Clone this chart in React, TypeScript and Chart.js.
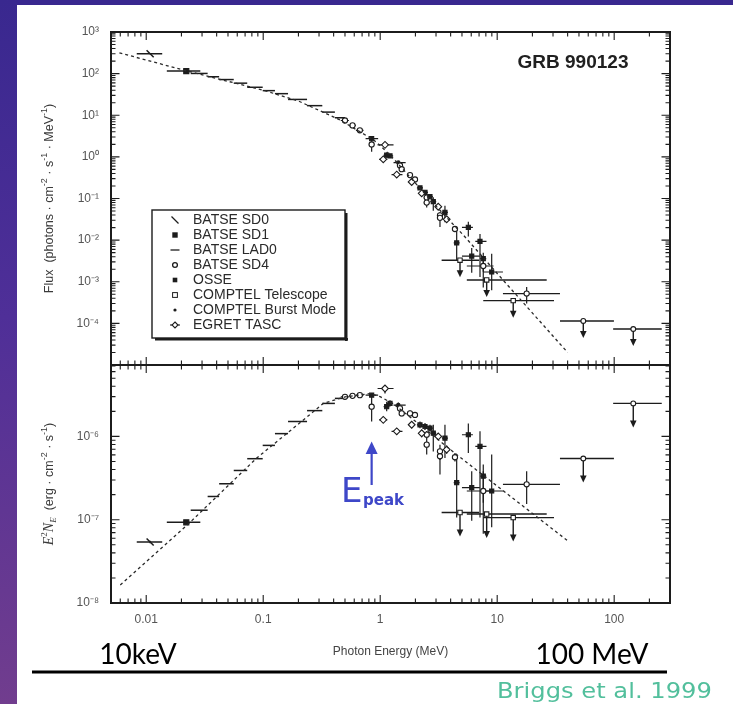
import { useEffect, useRef } from "react";
import { Chart, registerables } from "chart.js";

Chart.register(...registerables);

// ---------- page geometry ----------
const W = 733;
const H = 704;
const PLOT_LEFT = 111;
const PLOT_RIGHT = 670;
const FLUX_TOP = 32;
const PANEL_SPLIT = 365;
const NUF_BOTTOM = 603;
const X_AXIS_BOX = 56;

const INK = "#1c1c1c";
const SANS = '"Liberation Sans", Arial, Helvetica, sans-serif';
const SERIF = '"Liberation Serif", "Times New Roman", serif';
const BLUE = "#3e47c8";

// ---------- axes ----------
const energyMin = 0.005;
const energyMax = 300;
const energyTicks = [0.01, 0.1, 1, 10, 100];
const energyTickLabels = ["0.01", "0.1", "1", "10", "100"];

const fluxMin = 1e-5;
const fluxMax = 1e3;
const fluxTicks = [1e-4, 1e-3, 1e-2, 1e-1, 1, 1e1, 1e2, 1e3];

const nufMin = 1e-8;
const nufMax = 7.2e-6;
const nufTicks = [1e-8, 1e-7, 1e-6];

// ---------- measurements: [E, E_lo, E_hi, value, lo, hi] ----------
// photon flux in photons cm^-2 s^-1 MeV^-1, E^2 N_E in erg cm^-2 s^-1
const sd0Flux = [[0.0108, 0.0083, 0.0137, 300, 290, 310]];
const sd0Nuf = [[0.0108, 0.0083, 0.0137, 5.4e-8, 5.2e-8, 5.6e-8]];

const sd1Flux = [[0.022, 0.015, 0.029, 115, 112, 118]];
const sd1Nuf = [[0.022, 0.015, 0.029, 9.3e-8, 9.0e-8, 9.6e-8]];

const ladFlux = [
  [0.0284, 0.024, 0.0335, 101],
  [0.0375, 0.0335, 0.042, 84],
  [0.0485, 0.042, 0.056, 72],
  [0.064, 0.056, 0.073, 59],
  [0.085, 0.073, 0.099, 47],
  [0.112, 0.099, 0.126, 39],
  [0.143, 0.126, 0.163, 33],
  [0.197, 0.163, 0.237, 24],
  [0.275, 0.237, 0.32, 17],
  [0.362, 0.32, 0.41, 11.9],
  [0.453, 0.41, 0.5, 8.7],
];
const ladNuf = [
  [0.0284, 0.024, 0.0335, 1.3e-7],
  [0.0375, 0.0335, 0.042, 1.9e-7],
  [0.0485, 0.042, 0.056, 2.7e-7],
  [0.064, 0.056, 0.073, 3.9e-7],
  [0.085, 0.073, 0.099, 5.4e-7],
  [0.112, 0.099, 0.126, 7.8e-7],
  [0.143, 0.126, 0.163, 1.08e-6],
  [0.197, 0.163, 0.237, 1.51e-6],
  [0.275, 0.237, 0.32, 2.04e-6],
  [0.362, 0.32, 0.41, 2.49e-6],
  [0.453, 0.41, 0.5, 2.86e-6],
];

const sd4Flux = [
  [0.5, 0.46, 0.54, 7.47, 7.1, 7.9],
  [0.58, 0.54, 0.62, 5.7, 5.4, 6.0],
  [0.67, 0.62, 0.72, 4.35, 4.1, 4.6],
  [0.845, 0.8, 0.89, 1.99, 1.32, 2.74],
  [1.476, 1.4, 1.56, 0.622, 0.57, 0.68],
  [1.527, 1.45, 1.61, 0.506, 0.46, 0.55],
  [1.798, 1.7, 1.9, 0.365, 0.33, 0.4],
  [1.983, 1.88, 2.1, 0.287, 0.26, 0.32],
  [2.497, 2.36, 2.64, 0.105, 0.095, 0.116],
  [2.497, 2.36, 2.64, 0.0797, 0.0606, 0.1],
  [3.243, 3.07, 3.43, 0.0393, 0.0208, 0.0472],
  [3.243, 3.07, 3.43, 0.0343, 0.031, 0.038],
  [4.355, 4.12, 4.6, 0.0185, 0.0165, 0.0205],
  [7.603, 5.5, 9.3, 0.00239, 0.00073, 0.00414],
  [17.86, 11.2, 34.4, 5.21e-4, 3.01e-4, 7.5e-4],
];
const sd4Nuf = [
  [0.5, 0.46, 0.54, 2.99e-6, 2.9e-6, 3.08e-6],
  [0.58, 0.54, 0.62, 3.07e-6, 2.98e-6, 3.16e-6],
  [0.67, 0.62, 0.72, 3.13e-6, 3.04e-6, 3.22e-6],
  [0.845, 0.8, 0.89, 2.275e-6, 1.51e-6, 3.13e-6],
  [1.476, 1.4, 1.56, 2.17e-6, 2.0e-6, 2.35e-6],
  [1.527, 1.45, 1.61, 1.89e-6, 1.74e-6, 2.05e-6],
  [1.798, 1.7, 1.9, 1.89e-6, 1.74e-6, 2.05e-6],
  [1.983, 1.88, 2.1, 1.81e-6, 1.66e-6, 1.97e-6],
  [2.497, 2.36, 2.64, 1.05e-6, 0.95e-6, 1.16e-6],
  [2.497, 2.36, 2.64, 7.96e-7, 6.05e-7, 1.0e-6],
  [3.243, 3.07, 3.43, 6.62e-7, 3.5e-7, 7.96e-7],
  [3.243, 3.07, 3.43, 5.78e-7, 5.2e-7, 6.4e-7],
  [4.355, 4.12, 4.6, 5.62e-7, 5.0e-7, 6.3e-7],
  [7.603, 5.5, 9.3, 2.21e-7, 6.76e-8, 3.83e-7],
  [17.86, 11.2, 34.4, 2.66e-7, 1.54e-7, 3.83e-7],
];

const osseFlux = [
  [0.845, 0.75, 0.96, 2.74, 2.65, 2.83],
  [1.136, 1.07, 1.2, 1.1, 0.967, 1.258],
  [1.213, 1.14, 1.29, 1.056, 0.97, 1.15],
  [2.188, 2.06, 2.32, 0.1796, 0.163, 0.197],
  [2.415, 2.28, 2.56, 0.1407, 0.127, 0.155],
  [2.663, 2.51, 2.82, 0.1106, 0.1, 0.122],
  [2.843, 2.68, 3.01, 0.0845, 0.051, 0.1066],
  [3.577, 3.37, 3.79, 0.0466, 0.0268, 0.0673],
  [4.505, 4.25, 4.77, 8.55e-3, 3.26e-3, 0.01778],
  [5.667, 5.0, 6.2, 0.02035, 0.01225, 0.0278],
  [6.058, 5.0, 7.1, 4.13e-3, 1.65e-3, 6.51e-3],
  [7.129, 6.5, 8.1, 9.33e-3, 1.3e-3, 0.01412],
  [7.603, 7.17, 8.06, 3.61e-3, 1.73e-3, 4.97e-3],
  [8.974, 7.6, 11.2, 1.713e-3, 6.28e-4, 4.69e-3],
];
const osseNuf = [
  [0.845, 0.75, 0.96, 3.13e-6, 3.03e-6, 3.23e-6],
  [1.136, 1.07, 1.2, 2.275e-6, 2.0e-6, 2.6e-6],
  [1.213, 1.14, 1.29, 2.49e-6, 2.29e-6, 2.71e-6],
  [2.188, 2.06, 2.32, 1.377e-6, 1.25e-6, 1.51e-6],
  [2.415, 2.28, 2.56, 1.315e-6, 1.19e-6, 1.45e-6],
  [2.663, 2.51, 2.82, 1.256e-6, 1.14e-6, 1.38e-6],
  [2.843, 2.68, 3.01, 1.094e-6, 6.6e-7, 1.38e-6],
  [3.577, 3.37, 3.79, 9.55e-7, 5.5e-7, 1.38e-6],
  [4.505, 4.25, 4.77, 2.78e-7, 1.06e-7, 5.78e-7],
  [5.667, 5.0, 6.2, 1.047e-6, 6.3e-7, 1.43e-6],
  [6.058, 5.0, 7.1, 2.43e-7, 9.7e-8, 3.83e-7],
  [7.129, 6.5, 8.1, 7.6e-7, 1.06e-7, 1.15e-6],
  [7.603, 7.17, 8.06, 3.34e-7, 1.6e-7, 4.6e-7],
  [8.974, 7.6, 11.2, 2.21e-7, 8.1e-8, 6.05e-7],
];

const burstFlux = [[1.428, 1.3, 1.65, 0.7285, 0.68, 0.78]];
const burstNuf = [[1.428, 1.3, 1.65, 2.38e-6, 2.22e-6, 2.55e-6]];

const tascFlux = [
  [1.099, 0.95, 1.3, 1.943, 1.69, 2.13],
  [1.062, 0.98, 1.15, 0.874, 0.8, 0.95],
  [1.384, 1.25, 1.55, 0.375, 0.34, 0.41],
  [1.858, 1.75, 1.97, 0.2495, 0.225, 0.275],
  [2.263, 2.13, 2.4, 0.1329, 0.12, 0.147],
  [3.135, 2.95, 3.33, 0.0635, 0.057, 0.07],
  [3.7, 3.48, 3.93, 0.0317, 0.028, 0.036],
];
const tascNuf = [
  [1.099, 0.95, 1.3, 3.76e-6, 3.27e-6, 4.12e-6],
  [1.062, 0.98, 1.15, 1.58e-6, 1.45e-6, 1.72e-6],
  [1.384, 1.25, 1.55, 1.15e-6, 1.05e-6, 1.26e-6],
  [1.858, 1.75, 1.97, 1.38e-6, 1.25e-6, 1.52e-6],
  [2.263, 2.13, 2.4, 1.09e-6, 0.98e-6, 1.2e-6],
  [3.135, 2.95, 3.33, 1.0e-6, 0.9e-6, 1.1e-6],
  [3.7, 3.48, 3.93, 6.95e-7, 6.2e-7, 7.8e-7],
];

// upper limits: [E, E_lo, E_hi, limit]
const comptelFluxUL = [
  [4.81, 3.35, 7.0, 3.29e-3],
  [8.13, 5.5, 26.5, 1.105e-3],
  [13.71, 7.6, 30.6, 3.52e-4],
];
const comptelNufUL = [
  [4.81, 3.35, 7.0, 1.22e-7],
  [8.13, 5.5, 26.5, 1.17e-7],
  [13.71, 7.6, 30.6, 1.06e-7],
];
const sparkFluxUL = [
  [54.45, 34.4, 99.5, 1.143e-4],
  [145.6, 98, 255, 7.33e-5],
];
const sparkNufUL = [
  [54.45, 34.4, 99.5, 5.43e-7],
  [145.6, 98, 255, 2.49e-6],
];

// Band-function fit, sampled along the dashed curve
const bandFluxE = [0.0059, 0.0222, 0.1, 0.2, 0.453, 0.87, 1.0, 1.3, 2.0, 2.5, 3.7, 5.1, 9.96, 40];
const bandFlux = [316, 116, 40, 22, 7.7, 2.6, 1.87, 0.9, 0.234, 0.115, 0.035, 0.0135, 0.0016, 2.0e-5];
const bandNufE = [0.006, 0.0237, 0.088, 0.2, 0.327, 0.5, 0.82, 1.0, 1.3, 2.0, 4.5, 40.6];
const bandNuf = [1.64e-8, 9.3e-8, 5.5e-7, 1.41e-6, 2.49e-6, 2.98e-6, 3.27e-6, 3.0e-6, 2.45e-6, 1.52e-6, 6.05e-7, 5.5e-8];

const ePeakMeV = 0.845;

const legendNames = [
  "BATSE SD0",
  "BATSE SD1",
  "BATSE LAD0",
  "BATSE SD4",
  "OSSE",
  "COMPTEL Telescope",
  "COMPTEL Burst Mode",
  "EGRET TASC",
];

// ---------- helpers ----------
const SUP: Record<string, string> = {
  "0": "⁰", "1": "¹", "2": "²", "3": "³", "4": "⁴",
  "5": "⁵", "6": "⁶", "7": "⁷", "8": "⁸", "9": "⁹", "-": "⁻",
};
const powerLabel = (v: number) =>
  "10" + String(Math.round(Math.log10(v))).split("").map((c) => SUP[c]).join("");

const toPoints = (rows: number[][], upper = false) =>
  rows.map((r) => ({
    x: r[0],
    y: r[3],
    xMin: r[1],
    xMax: r[2],
    yMin: r.length > 4 ? r[4] : undefined,
    yMax: r.length > 5 ? r[5] : undefined,
    ul: upper,
  }));

function logSteps(min: number, max: number) {
  const out: { v: number; major: boolean }[] = [];
  for (let e = Math.floor(Math.log10(min)) - 1; e <= Math.ceil(Math.log10(max)); e++) {
    for (let m = 1; m <= 9; m++) {
      const v = m * Math.pow(10, e);
      if (v >= min * 0.999 && v <= max * 1.001) out.push({ v, major: m === 1 });
    }
  }
  return out;
}

type Seg = { t: string; s?: "sup" | "sub"; it?: boolean; serif?: boolean };
function drawVerticalRich(ctx: CanvasRenderingContext2D, segs: Seg[], cx: number, cy: number, size: number) {
  const fontOf = (g: Seg) =>
    `${g.it ? "italic " : ""}${g.s ? Math.round(size * 0.7) : g.serif ? size + 1.5 : size}px ${g.serif ? SERIF : SANS}`;
  ctx.save();
  ctx.translate(cx, cy);
  ctx.rotate(-Math.PI / 2);
  ctx.fillStyle = "#3a3a3a";
  ctx.textBaseline = "alphabetic";
  ctx.textAlign = "left";
  let w = 0;
  for (const g of segs) {
    ctx.font = fontOf(g);
    w += ctx.measureText(g.t).width;
  }
  let x = -w / 2;
  const base = size * 0.36;
  for (const g of segs) {
    ctx.font = fontOf(g);
    const dy = g.s === "sup" ? -size * 0.45 : g.s === "sub" ? size * 0.28 : 0;
    ctx.fillText(g.t, x, base + dy);
    x += ctx.measureText(g.t).width;
  }
  ctx.restore();
}

// ---------- dataset styles ----------
const base = { showLine: false, pointBorderColor: INK, pointBorderWidth: 1.1, bars: true, barWidth: 1.2 };
const styles: Record<string, any> = {
  sd0: { ...base, pointStyle: "line", pointRotation: 45, pointRadius: 5, pointBorderWidth: 1.5, barWidth: 1.4 },
  sd1: { ...base, pointStyle: "rect", pointRadius: 3.6, pointBackgroundColor: INK, barWidth: 1.5 },
  lad: { ...base, pointRadius: 0, barWidth: 1.5 },
  sd4: { ...base, pointStyle: "circle", pointRadius: 2.6, pointBackgroundColor: "#fff" },
  osse: { ...base, pointStyle: "rect", pointRadius: 2.9, pointBackgroundColor: INK },
  burst: { ...base, pointStyle: "circle", pointRadius: 1.7, pointBackgroundColor: INK },
  tasc: { ...base, pointStyle: "rectRot", pointRadius: 3.4, pointBackgroundColor: "#fff" },
  comptel: { ...base, pointStyle: "rect", pointRadius: 3.1, pointBackgroundColor: "#fff", barWidth: 1.4 },
  spark: { ...base, pointStyle: "circle", pointRadius: 2.4, pointBackgroundColor: "#fff", barWidth: 1.4 },
  model: {
    showLine: true,
    pointRadius: 0,
    borderColor: "#2a2a2a",
    borderWidth: 1.3,
    borderDash: [3, 3],
    fill: false,
    tension: 0,
  },
};

function datasets(flux: boolean) {
  const modelE = flux ? bandFluxE : bandNufE;
  const modelV = flux ? bandFlux : bandNuf;
  return [
    { ...styles.model, data: modelE.map((e, i) => ({ x: e, y: modelV[i] })) },
    { ...styles.lad, data: toPoints(flux ? ladFlux : ladNuf) },
    { ...styles.sd0, data: toPoints(flux ? sd0Flux : sd0Nuf) },
    { ...styles.sd1, data: toPoints(flux ? sd1Flux : sd1Nuf) },
    { ...styles.tasc, data: toPoints(flux ? tascFlux : tascNuf) },
    { ...styles.osse, data: toPoints(flux ? osseFlux : osseNuf) },
    { ...styles.sd4, data: toPoints(flux ? sd4Flux : sd4Nuf) },
    { ...styles.burst, data: toPoints(flux ? burstFlux : burstNuf) },
    { ...styles.comptel, data: toPoints(flux ? comptelFluxUL : comptelNufUL, true) },
    { ...styles.spark, data: toPoints(flux ? sparkFluxUL : sparkNufUL, true) },
  ];
}

// ---------- plugins ----------
const errorBarsPlugin = {
  id: "errorBars",
  beforeDatasetsDraw(chart: any, _args: any, opts: any) {
    const { ctx, chartArea: a } = chart;
    const x = chart.scales.x;
    const y = chart.scales.y;
    ctx.save();
    ctx.beginPath();
    ctx.rect(a.left, a.top, a.right - a.left, a.bottom - a.top);
    ctx.clip();
    ctx.strokeStyle = INK;
    ctx.fillStyle = INK;
    for (const ds of chart.data.datasets) {
      if (!ds.bars) continue;
      ctx.lineWidth = ds.barWidth;
      for (const p of ds.data) {
        const px = x.getPixelForValue(p.x);
        const py = y.getPixelForValue(p.y);
        ctx.beginPath();
        if (p.xMin !== p.xMax) {
          ctx.moveTo(x.getPixelForValue(p.xMin), py);
          ctx.lineTo(x.getPixelForValue(p.xMax), py);
        }
        if (p.yMin !== undefined) {
          ctx.moveTo(px, y.getPixelForValue(p.yMin));
          ctx.lineTo(px, y.getPixelForValue(p.yMax));
        }
        if (p.ul) {
          ctx.moveTo(px, py);
          ctx.lineTo(px, py + opts.arrow - 5);
        }
        ctx.stroke();
        if (p.ul) {
          const tip = py + opts.arrow;
          ctx.beginPath();
          ctx.moveTo(px - 3.3, tip - 7);
          ctx.lineTo(px + 3.3, tip - 7);
          ctx.lineTo(px, tip);
          ctx.closePath();
          ctx.fill();
        }
      }
    }
    ctx.restore();
  },
};

const framePlugin = {
  id: "frame",
  afterDatasetsDraw(chart: any) {
    const { ctx, chartArea: a } = chart;
    const x = chart.scales.x;
    const y = chart.scales.y;
    ctx.save();
    ctx.strokeStyle = INK;
    ctx.lineWidth = 1.1;
    ctx.beginPath();
    for (const t of logSteps(energyMin, energyMax)) {
      const px = x.getPixelForValue(t.v);
      const len = t.major ? 8 : 4.5;
      ctx.moveTo(px, a.top);
      ctx.lineTo(px, a.top + len);
      ctx.moveTo(px, a.bottom);
      ctx.lineTo(px, a.bottom - len);
    }
    for (const t of logSteps(y.min, y.max)) {
      const py = y.getPixelForValue(t.v);
      const len = t.major ? 8.5 : 4.5;
      ctx.moveTo(a.left, py);
      ctx.lineTo(a.left + len, py);
      ctx.moveTo(a.right, py);
      ctx.lineTo(a.right - len, py);
    }
    ctx.stroke();
    ctx.lineWidth = 2;
    ctx.strokeRect(a.left, a.top, a.right - a.left, a.bottom - a.top);
    ctx.restore();
  },
};

const fluxDecorPlugin = {
  id: "fluxDecor",
  afterDraw(chart: any) {
    const { ctx } = chart;
    ctx.save();
    // burst name
    ctx.fillStyle = "#202020";
    ctx.font = `bold 19px ${SANS}`;
    ctx.textAlign = "center";
    ctx.textBaseline = "middle";
    ctx.fillText("GRB 990123", 573, 63);

    // legend box with drop shadow
    const L = 152, T = 210, R = 345, B = 338;
    ctx.fillStyle = "#fff";
    ctx.fillRect(L, T, R - L, B - T);
    ctx.fillStyle = INK;
    ctx.fillRect(L + 3, B, R - L, 2.5);
    ctx.fillRect(R, T + 3, 2.5, B - T);
    ctx.strokeStyle = INK;
    ctx.lineWidth = 1.4;
    ctx.strokeRect(L, T, R - L, B - T);

    const mx = 175;
    ctx.font = `14px ${SANS}`;
    ctx.textAlign = "left";
    ctx.textBaseline = "middle";
    legendNames.forEach((name, i) => {
      const yy = 220 + i * 15;
      ctx.fillStyle = "#2a2a2a";
      ctx.fillText(name, 193, yy + 0.5);
      ctx.strokeStyle = INK;
      ctx.fillStyle = INK;
      ctx.lineWidth = 1.3;
      ctx.beginPath();
      if (i === 0) {
        ctx.moveTo(mx - 3.5, yy - 3.5);
        ctx.lineTo(mx + 3.5, yy + 3.5);
        ctx.stroke();
      } else if (i === 1) {
        ctx.fillRect(mx - 2.7, yy - 2.7, 5.4, 5.4);
      } else if (i === 2) {
        ctx.moveTo(mx - 4.5, yy);
        ctx.lineTo(mx + 4.5, yy);
        ctx.stroke();
      } else if (i === 3) {
        ctx.fillStyle = "#fff";
        ctx.arc(mx, yy, 2.4, 0, Math.PI * 2);
        ctx.fill();
        ctx.stroke();
      } else if (i === 4) {
        ctx.fillRect(mx - 2.3, yy - 2.3, 4.6, 4.6);
      } else if (i === 5) {
        ctx.lineWidth = 1;
        ctx.strokeRect(mx - 2.4, yy - 2.4, 4.8, 4.8);
      } else if (i === 6) {
        ctx.arc(mx, yy, 1.6, 0, Math.PI * 2);
        ctx.fill();
      } else {
        ctx.lineWidth = 1.1;
        ctx.moveTo(mx - 5, yy);
        ctx.lineTo(mx + 5, yy);
        ctx.stroke();
        ctx.beginPath();
        ctx.fillStyle = "#fff";
        ctx.moveTo(mx, yy - 3);
        ctx.lineTo(mx + 3, yy);
        ctx.lineTo(mx, yy + 3);
        ctx.lineTo(mx - 3, yy);
        ctx.closePath();
        ctx.fill();
        ctx.stroke();
      }
    });

    drawVerticalRich(
      ctx,
      [
        { t: "Flux  (photons · cm" },
        { t: "-2", s: "sup" },
        { t: " · s" },
        { t: "-1", s: "sup" },
        { t: " · MeV" },
        { t: "-1", s: "sup" },
        { t: ")" },
      ],
      48,
      (FLUX_TOP + PANEL_SPLIT) / 2,
      12.5
    );
    ctx.restore();
  },
};

const nufDecorPlugin = {
  id: "nufDecor",
  afterDraw(chart: any) {
    const { ctx } = chart;
    const x = chart.scales.x;
    ctx.save();
    drawVerticalRich(
      ctx,
      [
        { t: "E", it: true, serif: true },
        { t: "2", s: "sup", serif: true },
        { t: "N", it: true, serif: true },
        { t: "E", s: "sub", it: true, serif: true },
        { t: "  (erg · cm" },
        { t: "-2", s: "sup" },
        { t: " · s" },
        { t: "-1", s: "sup" },
        { t: ")" },
      ],
      48,
      (PANEL_SPLIT + NUF_BOTTOM) / 2,
      12.5
    );

    // E_peak marker
    const xp = x.getPixelForValue(ePeakMeV);
    ctx.strokeStyle = BLUE;
    ctx.fillStyle = BLUE;
    ctx.lineWidth = 2.2;
    ctx.beginPath();
    ctx.moveTo(xp, 485);
    ctx.lineTo(xp, 452);
    ctx.stroke();
    ctx.beginPath();
    ctx.moveTo(xp - 6, 454);
    ctx.lineTo(xp + 6, 454);
    ctx.lineTo(xp, 441.5);
    ctx.closePath();
    ctx.fill();
    ctx.textAlign = "left";
    ctx.textBaseline = "alphabetic";
    ctx.font = `34px "DejaVu Sans", sans-serif`;
    ctx.fillText("E", 341, 502);
    ctx.font = `bold 15px "DejaVu Sans", sans-serif`;
    ctx.fillText("peak", 363, 505);

    // energy-range captions under the axis
    ctx.fillStyle = "#000";
    ctx.font = `28px Lato, "Open Sans", sans-serif`;
    ctx.textAlign = "center";
    ctx.fillText("10keV", 138, 664);
    ctx.fillText("100 MeV", 592, 664);
    ctx.fillRect(32, 670.5, 635, 3);

    ctx.fillStyle = "#52bf9c";
    ctx.font = `22px "DejaVu Sans", sans-serif`;
    ctx.textAlign = "left";
    ctx.translate(497, 698);
    ctx.scale(1.1, 1);
    ctx.fillText("Briggs et al. 1999", 0, 0);
    ctx.restore();
  },
};

// ---------- chart configs ----------
function yScale(min: number, max: number, ticks: number[]) {
  return {
    type: "logarithmic",
    position: "left",
    min,
    max,
    afterFit: (s: any) => {
      s.width = PLOT_LEFT;
    },
    afterBuildTicks: (s: any) => {
      s.ticks = ticks.map((v) => ({ value: v }));
    },
    grid: { display: false, drawTicks: false },
    border: { display: false },
    ticks: {
      padding: 12,
      color: "#555",
      font: { size: 12, family: SANS },
      autoSkip: false,
      callback: (v: number) => powerLabel(v),
    },
  };
}

function fluxConfig(): any {
  return {
    type: "scatter",
    data: { datasets: datasets(true) },
    plugins: [errorBarsPlugin, framePlugin, fluxDecorPlugin],
    options: {
      animation: false,
      responsive: false,
      devicePixelRatio: 1,
      layout: { padding: { left: 0, right: W - PLOT_RIGHT, top: FLUX_TOP, bottom: H - PANEL_SPLIT } },
      plugins: { legend: { display: false }, tooltip: { enabled: false }, errorBars: { arrow: 17 } },
      events: [],
      scales: {
        x: { type: "logarithmic", min: energyMin, max: energyMax, display: false },
        y: yScale(fluxMin, fluxMax, fluxTicks),
      },
    },
  };
}

function nufConfig(): any {
  return {
    type: "scatter",
    data: { datasets: datasets(false) },
    plugins: [errorBarsPlugin, framePlugin, nufDecorPlugin],
    options: {
      animation: false,
      responsive: false,
      devicePixelRatio: 1,
      layout: {
        padding: { left: 0, right: W - PLOT_RIGHT, top: PANEL_SPLIT, bottom: H - NUF_BOTTOM - X_AXIS_BOX },
      },
      plugins: { legend: { display: false }, tooltip: { enabled: false }, errorBars: { arrow: 24 } },
      events: [],
      scales: {
        x: {
          type: "logarithmic",
          position: "bottom",
          min: energyMin,
          max: energyMax,
          afterFit: (s: any) => {
            s.height = X_AXIS_BOX;
          },
          afterBuildTicks: (s: any) => {
            s.ticks = energyTicks.map((v) => ({ value: v }));
          },
          grid: { display: false, drawTicks: false },
          border: { display: false },
          ticks: {
            padding: 9,
            color: "#555",
            font: { size: 12, family: SANS },
            autoSkip: false,
            maxRotation: 0,
            callback: (v: number) => energyTickLabels[energyTicks.indexOf(v)] ?? "",
          },
          title: {
            display: true,
            text: "Photon Energy (MeV)",
            color: "#444",
            font: { size: 12, family: SANS },
            padding: { top: 0, bottom: 0 },
          },
        },
        y: yScale(nufMin, nufMax, nufTicks),
      },
    },
  };
}

export default function App() {
  const fluxRef = useRef<HTMLCanvasElement>(null);
  const nufRef = useRef<HTMLCanvasElement>(null);

  useEffect(() => {
    const fluxChart = new Chart(fluxRef.current as HTMLCanvasElement, fluxConfig());
    const nufChart = new Chart(nufRef.current as HTMLCanvasElement, nufConfig());
    return () => {
      fluxChart.destroy();
      nufChart.destroy();
    };
  }, []);

  return (
    <div
      style={{
        position: "fixed",
        left: 0,
        top: 0,
        width: W,
        height: H,
        background: "#fff",
        overflow: "hidden",
      }}
    >
      <div style={{ position: "absolute", left: 0, top: 0, width: W, height: 5, background: "#39288f" }} />
      <div
        style={{
          position: "absolute",
          left: 0,
          top: 0,
          width: 17,
          height: H,
          background: "linear-gradient(#39288f, #4f2f98 45%, #713d8e)",
        }}
      />
      <canvas ref={fluxRef} width={W} height={H} style={{ position: "absolute", left: 0, top: 0, width: W, height: H }} />
      <canvas ref={nufRef} width={W} height={H} style={{ position: "absolute", left: 0, top: 0, width: W, height: H }} />
    </div>
  );
}
